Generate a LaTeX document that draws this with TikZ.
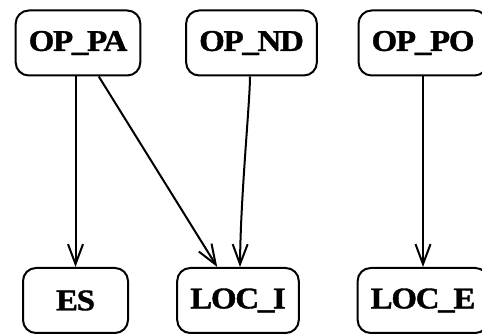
\documentclass[tikz,border=0pt]{standalone}
\usepackage{fontspec}
\usepackage{graphicx}
\setmainfont{Liberation Serif}
\newfontfamily\statefont{Liberation Serif}[LetterSpace=-4, FakeBold=1.2]
\usetikzlibrary{arrows.meta}
\tikzset{
    state/.style={
        draw, rounded corners=13pt, line width=2pt,
        minimum width=105pt, minimum height=65pt,
        inner xsep=13pt, align=center,
        font=\statefont\fontsize{30}{30}\selectfont\bfseries
    },
    edge/.style={->, line width=2pt}
}
\newcommand{\lbl}[1]{\scalebox{1.1}[1]{#1}}

\begin{document}
\begin{tikzpicture}[x=1pt, y=1pt, >={Straight Barb[length=20pt, width=15pt]}]
\useasboundingbox (0,0) rectangle (482,-336);

% Top row
\node[state] (oppa) at (78,-43)    {\lbl{OP\_PA}};
\node[state] (opnd) at (251.5,-43) {\lbl{OP\_ND}};
\node[state] (oppo) at (423,-43)   {\lbl{OP\_PO}};

% Bottom row
\node[state] (es)   at (75.5,-300.5) {\lbl{ES}};
\node[state] (loci) at (238,-300.5)  {\lbl{LOC\_I}};
\node[state] (loce) at (423,-300.5)  {\lbl{LOC\_E}};

% Edges
\draw[edge] (oppa.south -| es.north) -- (es.north);
\draw[edge] (oppa) -- (loci);
\draw[edge] ([xshift=-1.5pt]opnd.south) .. controls +(0,-25) and +(0.5,70) .. ([xshift=2pt]loci.north);
\draw[edge] (oppo) -- (loce);

\end{tikzpicture}
\end{document}
